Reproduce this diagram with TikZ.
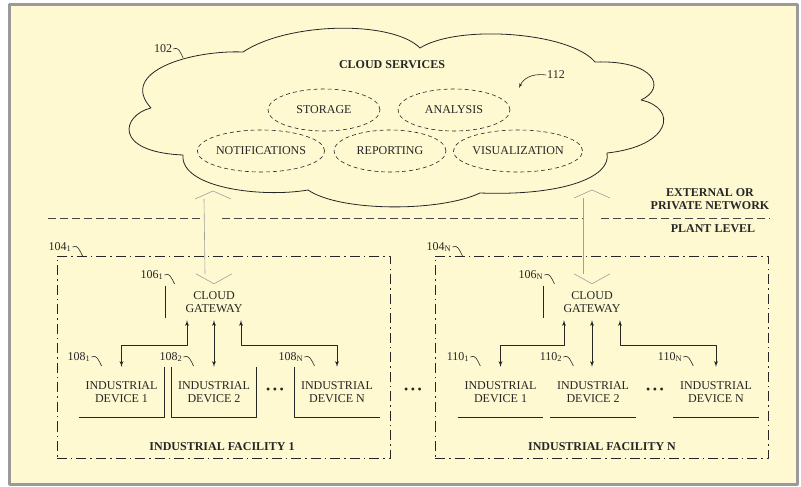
\documentclass[tikz,border=0pt]{standalone}
\usepackage{fontspec}
\setmainfont{Liberation Serif}
\usetikzlibrary{arrows,shapes.geometric,calc}

\definecolor{paper}{HTML}{FEF9D1}
\definecolor{framecol}{HTML}{9A9A9A}
\definecolor{ink}{HTML}{262626}

\begin{document}
\begin{tikzpicture}[x=1bp,y=-1bp,>=latex',line join=bevel,
  every node/.style={text=ink,font=\fontsize{12bp}{13bp}\selectfont},
  title/.style={font=\fontsize{12bp}{13bp}\selectfont\bfseries,align=center},
  service/.style={ellipse,draw=ink,line width=0.6bp,dash pattern=on 4bp off 3bp,
    minimum width=112bp,minimum height=42bp,inner sep=0pt},
  gateway/.style={minimum width=96bp,minimum height=36bp,align=center,inner sep=0pt},
  device/.style={minimum width=85bp,minimum height=50bp,align=center,inner sep=0pt},
  facility/.style={draw=ink,line width=0.9bp,inner sep=0pt,
    dash pattern=on 10bp off 4bp on 1.5bp off 4bp},
  ref/.style={inner sep=1bp},
  pointer/.style={draw=ink,line width=0.6bp},
  edge/.style={draw=ink,line width=0.7bp},
  link/.style={<->,draw=ink,line width=0.9bp},
  hollow/.style={draw=gray!75,line width=0.6bp},
  boundary/.style={draw=ink!85,line width=0.6bp,dash pattern=on 8bp off 4bp}]
\useasboundingbox (0,0) rectangle (801,487);

% Page
\fill[white] (0,0) rectangle (801,487);
\fill[paper] (9,5) rectangle (797.5,484.5);
\draw[framecol,line width=3bp] (9,5) rectangle (797.5,484.5);

% Cloud: 102
\draw[ink,line width=0.8bp] (243,52)
  .. controls (190,50) and (118,72) .. (151,108)
  .. controls (122,115) and (112,152) .. (183,155)
  .. controls (180,188) and (262,198) .. (308,190)
  .. controls (340,212) and (440,212) .. (480,193)
  .. controls (560,196) and (612,178) .. (607,153)
  .. controls (672,146) and (678,108) .. (641,100)
  .. controls (667,88) and (655,60) .. (595,62)
  .. controls (570,32) and (458,24) .. (420,48)
  .. controls (392,20) and (288,22) .. (243,52) -- cycle;
\node[title] (cs) at (392,65) {CLOUD SERVICES};

% Services: 112
\node[service] (stor) at (324,110) {STORAGE};
\node[service] (anal) at (454,110) {ANALYSIS};
\node[service] (noti) at (261,151) {NOTIFICATIONS};
\node[service] (repo) at (390,151) {REPORTING};
\node[service] (visu) at (518,151) {VISUALIZATION};

% Network boundary
\draw[boundary] (48,218) -- (204,218);
\draw[boundary] (222,218) -- (583,218);
\draw[boundary] (601,218) -- (770,218);
\node[title] (ext) at (710,199.5) {EXTERNAL OR\\PRIVATE NETWORK};
\node[title] (plant) at (713,229) {PLANT LEVEL};

% Facilities: 104
\node[facility,minimum width=333bp,minimum height=202bp] (f1) at (223.5,357) {};
\node[facility,minimum width=333bp,minimum height=202bp] (fn) at (601.5,357) {};
\node[title] (f1lbl) at (222,447) {INDUSTRIAL FACILITY 1};
\node[title] (fnlbl) at (602,447) {INDUSTRIAL FACILITY N};

% Gateways: 106
\node[gateway] (gw1) at (214,302) {CLOUD\\GATEWAY};
\node[gateway] (gw2) at (592,302) {CLOUD\\GATEWAY};
\draw[edge] ([yshift=-2bp]gw1.north west) -- ([yshift=2bp]gw1.south west);
\draw[edge] ([yshift=-2bp]gw2.north west) -- ([yshift=2bp]gw2.south west);

% Devices: 108, 110
\node[device] (d11) at (121.5,392) {INDUSTRIAL\\DEVICE 1};
\node[device] (d12) at (214,392) {INDUSTRIAL\\DEVICE 2};
\node[device] (d1n) at (337,392) {INDUSTRIAL\\DEVICE N};
\node[device] (d21) at (500.5,392) {INDUSTRIAL\\DEVICE 1};
\node[device] (d22) at (593,392) {INDUSTRIAL\\DEVICE 2};
\node[device] (d2n) at (716,392) {INDUSTRIAL\\DEVICE N};
\draw[edge] (d11.north east) -- (d11.south east) -- (d11.south west);
\draw[edge] (d12.north west) -- (d12.south west) -- (d12.south east) -- (d12.north east);
\draw[edge] (d1n.north west) -- (d1n.south west) -- (d1n.south east);
\foreach \d in {d21,d22,d2n}
  \draw[edge] (\d.south west) -- (\d.south east);

% Ellipses
\node (dots1) at (275,391) {\textbullet\hspace{2.5bp}\textbullet\hspace{2.5bp}\textbullet};
\node (dots2) at (413,391) {\textbullet\hspace{2.5bp}\textbullet\hspace{2.5bp}\textbullet};
\node (dots3) at (655,391) {\textbullet\hspace{2.5bp}\textbullet\hspace{2.5bp}\textbullet};

% Edge: cloud <-> gateways
\coordinate (ct1) at (213,191);
\coordinate (ct2) at (592,190);
\foreach \c/\g in {ct1/gw1,ct2/gw2} {
  \draw[hollow] ($(\c)+(-18,8)$) -- (\c) -- ($(\c)+(18,8)$);
  \draw[hollow] ($(\c)+(-9,8)$) -- ($(\g.north)+(-9,-10)$);
  \draw[hollow] ($(\g.north)+(-18,-10)$) -- (\g.north) -- ($(\g.north)+(18,-10)$);
}

% Edge: gateways <-> devices
\draw[link] ([xshift=-27bp]gw1.south) -- ++(0,25) -| (d11.north);
\draw[link] (gw1.south) -- (gw1.south |- d12.north);
\draw[link] ([xshift=27bp]gw1.south) -- ++(0,25) -| (d1n.north);
\draw[link] ([xshift=-28bp]gw2.south) -- ++(0,25) -| (d21.north);
\draw[link] (gw2.south) -- (gw2.south |- d22.north);
\draw[link] ([xshift=28bp]gw2.south) -- ++(0,25) -| (d2n.north);

% Reference numerals
\node[ref] (r102) at (163,49) {102};
\node[ref] (r104a) at (60,247) {104\textsubscript{1}};
\node[ref] (r104n) at (439,247) {104\textsubscript{N}};
\node[ref] (r106a) at (152,275) {106\textsubscript{1}};
\node[ref] (r106n) at (531,275) {106\textsubscript{N}};
\node[ref] (r108a) at (79,357) {108\textsubscript{1}};
\node[ref] (r108b) at (171,357) {108\textsubscript{2}};
\node[ref] (r108n) at (291,357) {108\textsubscript{N}};
\node[ref] (r110a) at (458,357) {110\textsubscript{1}};
\node[ref] (r110b) at (551,357) {110\textsubscript{2}};
\node[ref] (r110n) at (670,357) {110\textsubscript{N}};
\foreach \n in {r102,r104a,r104n,r106a,r106n,r108a,r108b,r108n,r110a,r110b,r110n}
  \draw[pointer] (\n.east) .. controls +(5,-3) and +(-3,-6) .. +(10,9);

\node[ref] (r112) at (556,75) {112};
\draw[pointer,->] (r112.west) .. controls (531,73) and (523,79) .. (519,88);
\end{tikzpicture}
\end{document}
